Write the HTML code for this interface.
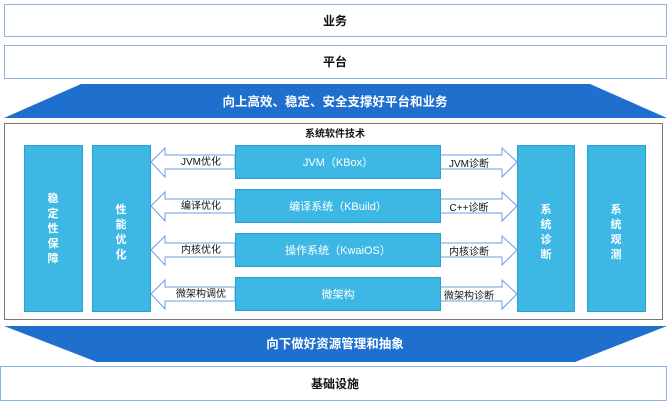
<!DOCTYPE html>
<html><head><meta charset="utf-8"><style>
body{margin:0;width:670px;height:404px;background:#fff;overflow:hidden;font-family:"Liberation Sans","Noto Sans CJK SC",sans-serif;}
</style></head><body>
<svg width="670" height="404" viewBox="0 0 670 404" xmlns="http://www.w3.org/2000/svg" font-family="Liberation Sans, Noto Sans CJK SC, sans-serif">
<rect x="4.5" y="4.5" width="662" height="32" fill="#fff" stroke="#8fb4e3"/>
<text x="335" y="25" text-anchor="middle" font-size="12" font-weight="bold" fill="#111">业务</text>
<rect x="4.5" y="45.5" width="662" height="33" fill="#fff" stroke="#8fb4e3"/>
<text x="335" y="66" text-anchor="middle" font-size="12" font-weight="bold" fill="#111">平台</text>
<polygon points="81,84 590,84 667,118 4,118" fill="#1f6fcf"/>
<text x="335" y="106" text-anchor="middle" font-size="12.5" font-weight="bold" fill="#fff">向上高效、稳定、安全支撑好平台和业务</text>
<rect x="4.5" y="123.5" width="658" height="196" fill="#fff" stroke="#777"/>
<text x="335" y="137" text-anchor="middle" font-size="10" font-weight="bold" fill="#111">系统软件技术</text>
<g fill="#3db8e5" stroke="#2a9fd0">
<rect x="24.5" y="145.5" width="58" height="166"/>
<rect x="92.5" y="145.5" width="58" height="166"/>
<rect x="517.5" y="145.5" width="57" height="166"/>
<rect x="587.5" y="145.5" width="58" height="166"/>
</g>
<g fill="#fff" font-size="11" font-weight="bold" text-anchor="middle">
<text x="53" y="202">稳</text><text x="53" y="217">定</text><text x="53" y="232">性</text><text x="53" y="247">保</text><text x="53" y="262">障</text>
<text x="121" y="213">性</text><text x="121" y="228">能</text><text x="121" y="243">优</text><text x="121" y="258">化</text>
<text x="546" y="213">系</text><text x="546" y="228">统</text><text x="546" y="243">诊</text><text x="546" y="258">断</text>
<text x="616" y="213">系</text><text x="616" y="228">统</text><text x="616" y="243">观</text><text x="616" y="258">测</text>
</g>
<g fill="#fff" stroke="#6a9fe0">
<polygon points="151,162 165,148 165,155 235,155 235,169 165,169 165,177"/>
<polygon points="151,206 165,192 165,199 235,199 235,213 165,213 165,221"/>
<polygon points="151,250 165,236 165,243 235,243 235,257 165,257 165,265"/>
<polygon points="151,294 165,280 165,287 235,287 235,301 165,301 165,309"/>
<polygon points="517,162 502,148 502,155 440,155 440,169 502,169 502,177"/>
<polygon points="517,206 502,192 502,199 440,199 440,213 502,213 502,221"/>
<polygon points="517,250 502,236 502,243 440,243 440,257 502,257 502,265"/>
<polygon points="517,294 502,280 502,287 440,287 440,301 502,301 502,309"/>
</g>
<g font-size="10" fill="#111" text-anchor="middle">
<text x="201" y="165">JVM优化</text><text x="201" y="209">编译优化</text><text x="201" y="253">内核优化</text><text x="201" y="297">微架构调优</text>
<text x="469" y="167">JVM诊断</text><text x="469" y="211">C++诊断</text><text x="469" y="255">内核诊断</text><text x="469" y="299">微架构诊断</text>
</g>
<g fill="#3db8e5" stroke="#2a9fd0">
<rect x="235.5" y="145.5" width="205" height="33"/>
<rect x="235.5" y="189.5" width="205" height="33"/>
<rect x="235.5" y="233.5" width="205" height="33"/>
<rect x="235.5" y="277.5" width="205" height="33"/>
</g>
<g font-size="11" fill="#fff" text-anchor="middle">
<text x="338" y="166">JVM（KBox）</text><text x="338" y="210">编译系统（KBuild）</text><text x="338" y="254">操作系统（KwaiOS）</text><text x="338" y="298">微架构</text>
</g>
<polygon points="4,326 667,326 575,362 97,362" fill="#1f6fcf"/>
<text x="335" y="348" text-anchor="middle" font-size="12.5" font-weight="bold" fill="#fff">向下做好资源管理和抽象</text>
<rect x="0.5" y="366.5" width="666" height="34" fill="#fff" stroke="#8fb4e3"/>
<text x="335" y="388" text-anchor="middle" font-size="12" font-weight="bold" fill="#111">基础设施</text>
</svg>
</body></html>
